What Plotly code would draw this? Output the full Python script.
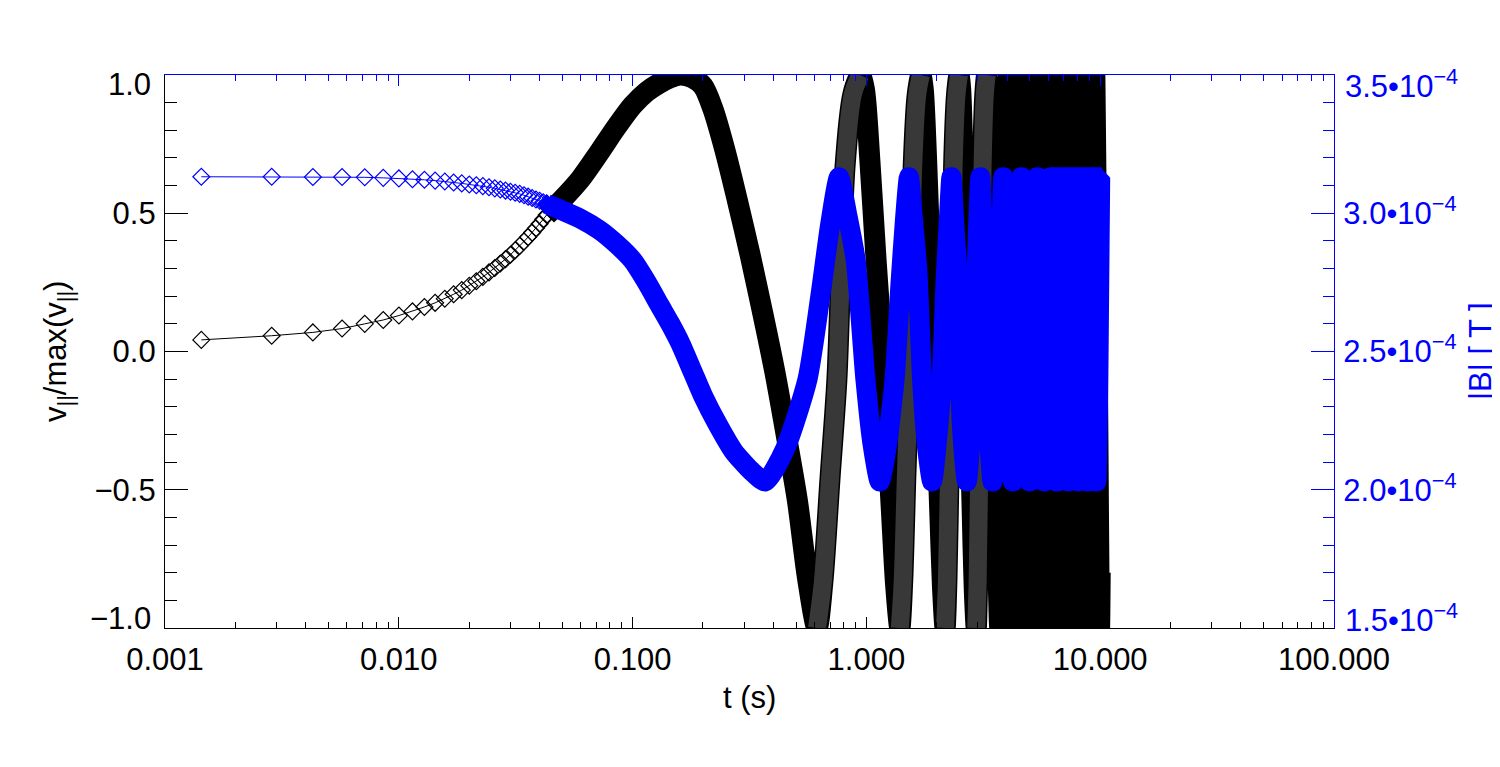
import plotly.graph_objects as go

# ---------------- data ----------------
# early, individually visible samples (dt ~ 0.00143 s)
t_early = [0.00143, 0.00286, 0.00429, 0.00572, 0.00715, 0.00858, 0.01001, 0.01144,
           0.01287, 0.0143, 0.01573, 0.01716, 0.01859, 0.02002, 0.02145, 0.02288,
           0.02431, 0.02574, 0.02717, 0.0286, 0.03003, 0.03146, 0.03289, 0.03432,
           0.03575, 0.03718, 0.03861, 0.04004, 0.04147, 0.0429]
v_early = [0.042, 0.057, 0.069, 0.083, 0.100, 0.114, 0.130, 0.145, 0.161, 0.176,
           0.191, 0.207, 0.222, 0.238, 0.254, 0.270, 0.286, 0.302, 0.318, 0.334,
           0.350, 0.366, 0.382, 0.398, 0.414, 0.430, 0.446, 0.462, 0.478, 0.494]
b_early = [3.132e-4, 3.132e-4, 3.131e-4, 3.131e-4, 3.130e-4, 3.128e-4, 3.126e-4, 3.123e-4,
           3.121e-4, 3.118e-4, 3.115e-4, 3.111e-4, 3.108e-4, 3.104e-4, 3.101e-4, 3.098e-4,
           3.094e-4, 3.090e-4, 3.086e-4, 3.082e-4, 3.078e-4, 3.074e-4, 3.070e-4, 3.065e-4,
           3.060e-4, 3.055e-4, 3.050e-4, 3.045e-4, 3.040e-4, 3.034e-4]

# dense part, v_par / max(v_par)
t_vband = [0.0429, 0.05, 0.06, 0.072, 0.085, 0.1, 0.115, 0.13, 0.145, 0.16,
           0.18, 0.20, 0.22, 0.248, 0.28, 0.318, 0.36, 0.405, 0.46, 0.507, 0.56, 0.615,
           0.652, 0.70, 0.748, 0.81, 0.875, 0.94,
           0.98, 1.035, 1.10, 1.145, 1.19, 1.235, 1.28, 1.335, 1.39,
           1.43, 1.475, 1.52, 1.585, 1.65, 1.71,
           1.75, 1.81, 1.875, 1.92, 1.97, 2.015, 2.06, 2.115, 2.17,
           2.21, 2.255, 2.30, 2.36, 2.43, 2.49,
           2.53, 2.59, 2.655, 2.70, 2.745, 2.79, 2.835, 2.89, 2.95,
           2.99, 3.035, 3.08, 3.14, 3.21, 3.27,
           3.43, 3.61, 3.72, 3.85, 3.92, 4.05,
           4.21, 4.39, 4.50, 4.63, 4.70, 4.82,
           4.98, 5.17, 5.28, 5.41, 5.47, 5.60,
           5.76, 5.94, 6.05, 6.18, 6.25, 6.38,
           6.54, 6.72, 6.83, 6.96, 7.03, 7.15,
           7.31, 7.50, 7.61, 7.74, 7.80, 7.93,
           8.09, 8.28, 8.39, 8.52, 8.58, 8.71,
           8.87, 9.05, 9.16, 9.29, 9.36, 9.49,
           9.65, 9.83, 9.94, 10.0]
v_vband = [0.494, 0.55, 0.625, 0.72, 0.81, 0.89, 0.94, 0.97, 0.99, 1.0,
           0.99, 0.96, 0.88, 0.73, 0.55, 0.35, 0.14, -0.07, -0.33, -0.54, -0.82, -1.0,
           -0.83, -0.45, -0.10, 0.667, 0.93, 1.0,
           0.95, 0.69, 0.33, 0.12, -0.10, -0.34, -0.58, -0.85, -1.0,
           -0.83, -0.45, -0.10, 0.667, 0.93, 1.0,
           0.95, 0.69, 0.33, 0.12, -0.10, -0.34, -0.58, -0.85, -1.0,
           -0.83, -0.45, -0.10, 0.667, 0.93, 1.0,
           0.95, 0.69, 0.33, 0.12, -0.10, -0.34, -0.58, -0.85, -1.0,
           -0.83, -0.45, -0.10, 0.667, 0.93, 1.0,
           0.33, -0.58, -1.0, -0.10, 0.667, 1.0,
           0.33, -0.58, -1.0, -0.10, 0.667, 1.0,
           0.33, -0.58, -1.0, -0.10, 0.667, 1.0,
           0.33, -0.58, -1.0, -0.10, 0.667, 1.0,
           0.33, -0.58, -1.0, -0.10, 0.667, 1.0,
           0.33, -0.58, -1.0, -0.10, 0.667, 1.0,
           0.33, -0.58, -1.0, -0.10, 0.667, 1.0,
           0.33, -0.58, -1.0, -0.10, 0.667, 1.0,
           0.33, -0.58, -1.0, -0.8]

# dense part, |B| [T]
t_bband = [0.0429, 0.05, 0.06, 0.072, 0.085, 0.1, 0.115, 0.13, 0.145, 0.16,
           0.18, 0.2, 0.23, 0.27, 0.32, 0.37,
           0.45, 0.56, 0.64, 0.70, 0.764, 0.83, 0.90, 0.99, 1.06, 1.14,
           1.22, 1.32, 1.40, 1.46, 1.52, 1.58, 1.65, 1.73, 1.82, 1.91,
           1.99, 2.10, 2.18, 2.25, 2.31, 2.37, 2.44, 2.51, 2.60, 2.69,
           2.77, 2.87, 2.95, 3.01, 3.07, 3.13, 3.20, 3.27, 3.37, 3.46,
           3.65, 3.85, 4.05, 4.23,
           4.42, 4.60, 4.80, 4.99,
           5.18, 5.38, 5.57, 5.76,
           5.95, 6.14, 6.33, 6.53,
           6.72, 6.91, 7.10, 7.30,
           7.49, 7.68, 7.88, 8.08,
           8.27, 8.47, 8.66, 8.86,
           9.05, 9.25, 9.44, 9.63,
           9.82, 10.0]
b_bband = [3.034e-4, 3.01e-4, 2.98e-4, 2.94e-4, 2.89e-4, 2.83e-4, 2.75e-4, 2.67e-4, 2.60e-4, 2.53e-4,
           2.43e-4, 2.34e-4, 2.24e-4, 2.14e-4, 2.07e-4, 2.03e-4,
           2.15e-4, 2.40e-4, 2.72e-4, 2.96e-4, 3.13e-4, 2.99e-4, 2.83e-4, 2.40e-4, 2.17e-4, 2.03e-4,
           2.15e-4, 2.40e-4, 2.75e-4, 2.97e-4, 3.13e-4, 2.98e-4, 2.80e-4, 2.40e-4, 2.15e-4, 2.03e-4,
           2.15e-4, 2.40e-4, 2.75e-4, 2.97e-4, 3.13e-4, 2.98e-4, 2.80e-4, 2.40e-4, 2.15e-4, 2.03e-4,
           2.15e-4, 2.40e-4, 2.75e-4, 2.97e-4, 3.13e-4, 2.98e-4, 2.80e-4, 2.40e-4, 2.15e-4, 2.03e-4,
           2.40e-4, 3.13e-4, 2.40e-4, 2.03e-4,
           2.40e-4, 3.13e-4, 2.40e-4, 2.03e-4,
           2.40e-4, 3.13e-4, 2.40e-4, 2.03e-4,
           2.40e-4, 3.13e-4, 2.40e-4, 2.03e-4,
           2.40e-4, 3.13e-4, 2.40e-4, 2.03e-4,
           2.40e-4, 3.13e-4, 2.40e-4, 2.03e-4,
           2.40e-4, 3.13e-4, 2.40e-4, 2.03e-4,
           2.40e-4, 3.13e-4, 2.40e-4, 2.03e-4,
           2.40e-4, 3.13e-4]

# axis ticks
x_tickvals = [0.001, 0.01, 0.1, 1, 10, 100]
x_ticktext = ["0.001", "0.010", "0.100", "1.000", "10.000", "100.000"]
x_minor = [m * d for d in [0.001, 0.01, 0.1, 1, 10] for m in range(2, 10)]
y_tickvals = [-1.0, -0.5, 0.0, 0.5, 1.0]
y_ticktext = ["\u22121.0", "\u22120.5", "0.0", "0.5", "1.0"]
y_minor = [round(-1 + 0.1 * i, 2) for i in range(21)]
y2_tickvals = [1.5e-4, 2.0e-4, 2.5e-4, 3.0e-4, 3.5e-4]
y2_ticktext = ["1.5\u202210<sup>\u22124</sup>", "2.0\u202210<sup>\u22124</sup>",
               "2.5\u202210<sup>\u22124</sup>", "3.0\u202210<sup>\u22124</sup>",
               "3.5\u202210<sup>\u22124</sup>"]
y2_minor = [round(1.5e-4 + 0.1e-4 * i, 7) for i in range(21)]

FONT = "Liberation Sans, Arial, Helvetica, sans-serif"
FS = 31
BLUE = "#0000ff"
BAND_W = 21

# page body has an 8 px margin: plot area lands at page x 165..1334, y 75..628
FIG_W, FIG_H = 1492, 751
PL, PT = 157, 67
PR = FIG_W - (1334 - 8)
PB = FIG_H - (628 - 8)
PW, PH = 1334 - 165, 628 - 75


def px_x(x):  # page px -> paper
    return (x - 165) / PW


def px_y(y):
    return (628 - y) / PH


def split_by_direction(xs, ys, rising, t_lo, t_hi):
    """Split a polyline into the segments that rise (or fall) within [t_lo, t_hi]."""
    ox, oy = [], []
    for i in range(len(xs) - 1):
        up = ys[i + 1] > ys[i]
        inside = t_lo <= xs[i] and xs[i + 1] <= t_hi
        if inside and up == rising:
            if ox and ox[-1] == xs[i]:
                ox.append(xs[i + 1]); oy.append(ys[i + 1])
            else:
                if ox:
                    ox.append(None); oy.append(None)
                ox += [xs[i], xs[i + 1]]; oy += [ys[i], ys[i + 1]]
    return ox, oy


fig = go.Figure()
# black: early sparse diamonds
fig.add_trace(go.Scatter(
    x=t_early, y=v_early, mode="lines+markers", xaxis="x", yaxis="y",
    line=dict(color="black", width=1),
    marker=dict(symbol="diamond-open", size=13, color="black", line=dict(width=1.2, color="black")),
    showlegend=False, hoverinfo="skip"))
rx, ry = split_by_direction(t_vband, v_vband, True, 0.6, 3.3)
# black: dense band
fig.add_trace(go.Scatter(
    x=t_vband, y=v_vband, mode="lines", xaxis="x", yaxis="y",
    line=dict(color="black", width=BAND_W, shape="spline", smoothing=0.8),
    showlegend=False, hoverinfo="skip"))
# fast rising strokes look hatched (dark grey)
fig.add_trace(go.Scatter(
    x=rx, y=ry, mode="lines", xaxis="x", yaxis="y",
    line=dict(color="#383838", width=BAND_W - 3, shape="spline", smoothing=0.8),
    showlegend=False, hoverinfo="skip"))
# blue
fig.add_trace(go.Scatter(
    x=t_early, y=b_early, mode="lines+markers", xaxis="x2", yaxis="y2",
    line=dict(color=BLUE, width=1),
    marker=dict(symbol="diamond-open", size=13, color=BLUE, line=dict(width=1.2, color=BLUE)),
    showlegend=False, hoverinfo="skip"))
fig.add_trace(go.Scatter(
    x=t_bband, y=b_bband, mode="lines+markers", xaxis="x2", yaxis="y2",
    line=dict(color=BLUE, width=BAND_W - 1, shape="spline", smoothing=0.6),
    marker=dict(symbol="diamond", size=15, color=BLUE),
    showlegend=False, hoverinfo="skip"))

tickfont = dict(family=FONT, size=FS, color="black")

# the end labels of both y axes sit inside the axis span (IDL style), so they are drawn as text
end_labels = [
    dict(text=y_ticktext[-1], x=px_x(153), y=px_y(85), xanchor="right", color="black"),
    dict(text=y_ticktext[0], x=px_x(153), y=px_y(618), xanchor="right", color="black"),
    dict(text=y2_ticktext[-1], x=px_x(1343), y=px_y(84), xanchor="left", color=BLUE),
    dict(text=y2_ticktext[0], x=px_x(1343), y=px_y(618), xanchor="left", color=BLUE),
]
y_ticktext_shown = [""] + y_ticktext[1:-1] + [""]
y2_ticktext_shown = [""] + y2_ticktext[1:-1] + [""]

annotations = [
    dict(text="t (s)", xref="paper", yref="paper", x=0.5, y=px_y(697),
         showarrow=False, font=dict(family=FONT, size=FS, color="black"),
         xanchor="center", yanchor="middle"),
    dict(text="v<sub>||</sub>/max(v<sub>||</sub>)", xref="paper", yref="paper",
         x=px_x(58), y=px_y(352), textangle=-90, showarrow=False,
         font=dict(family=FONT, size=FS, color="black"),
         xanchor="center", yanchor="middle"),
    dict(text="|B| [ T ]", xref="paper", yref="paper",
         x=px_x(1480), y=px_y(351), textangle=-90, showarrow=False,
         font=dict(family=FONT, size=FS, color=BLUE),
         xanchor="center", yanchor="middle"),
]
for lab in end_labels:
    annotations.append(dict(text=lab["text"], xref="paper", yref="paper", x=lab["x"], y=lab["y"],
                            showarrow=False, xanchor=lab["xanchor"], yanchor="middle",
                            font=dict(family=FONT, size=FS, color=lab["color"])))

fig.update_layout(
    width=FIG_W, height=FIG_H,
    margin=dict(l=PL, r=PR, t=PT, b=PB, autoexpand=False),
    paper_bgcolor="white", plot_bgcolor="white",
    showlegend=False,
    xaxis=dict(type="log", range=[-3, 2], tickmode="array", tickvals=x_tickvals, ticktext=x_ticktext,
               ticks="inside", ticklen=11, tickwidth=1, tickcolor="black", automargin=False,
               showline=True, linecolor="black", linewidth=1.2, mirror=False,
               showgrid=False, zeroline=False, tickfont=tickfont, ticklabelstandoff=4,
               minor=dict(tickmode="array", tickvals=x_minor, ticks="inside", ticklen=6,
                          tickcolor="black", tickwidth=1, showgrid=False)),
    xaxis2=dict(type="log", range=[-3, 2], overlaying="x", side="top", anchor="y2",
                tickmode="array", tickvals=x_tickvals, showticklabels=False, automargin=False,
                ticks="inside", ticklen=11, tickwidth=1, tickcolor=BLUE,
                showline=True, linecolor=BLUE, linewidth=1.2,
                showgrid=False, zeroline=False,
                minor=dict(tickmode="array", tickvals=x_minor, ticks="inside", ticklen=6,
                           tickcolor=BLUE, tickwidth=1, showgrid=False)),
    yaxis=dict(range=[-1, 1], tickmode="array", tickvals=y_tickvals, ticktext=y_ticktext_shown,
               ticks="inside", ticklen=23, tickwidth=1, tickcolor="black", automargin=False,
               showline=True, linecolor="black", linewidth=1.2,
               showgrid=False, zeroline=False, tickfont=tickfont, ticklabelstandoff=2,
               minor=dict(tickmode="array", tickvals=y_minor, ticks="inside", ticklen=12,
                          tickcolor="black", tickwidth=1, showgrid=False)),
    yaxis2=dict(range=[1.5e-4, 3.5e-4], overlaying="y", side="right", anchor="x2",
                tickmode="array", tickvals=y2_tickvals, ticktext=y2_ticktext_shown, automargin=False,
                ticks="inside", ticklen=23, tickwidth=1, tickcolor=BLUE,
                showline=True, linecolor=BLUE, linewidth=1.2,
                showgrid=False, zeroline=False,
                tickfont=dict(family=FONT, size=FS, color=BLUE), ticklabelstandoff=2,
                minor=dict(tickmode="array", tickvals=y2_minor, ticks="inside", ticklen=11,
                           tickcolor=BLUE, tickwidth=1, showgrid=False)),
    annotations=annotations,
)

fig.write_html("out.html")
